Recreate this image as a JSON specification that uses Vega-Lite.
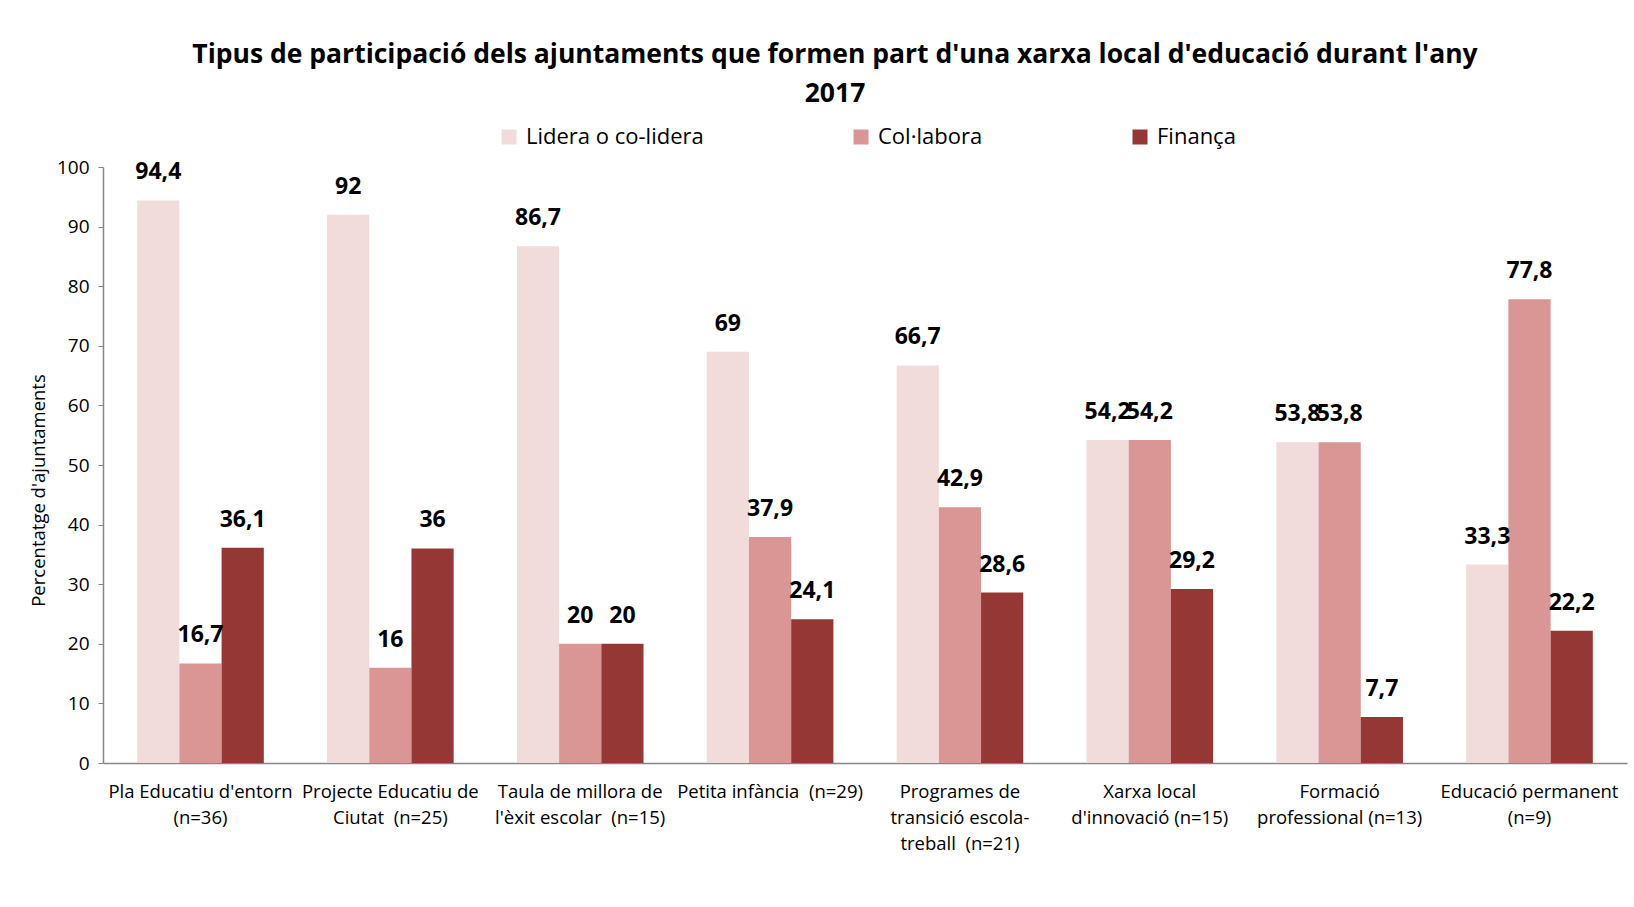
{
  "$schema": "https://vega.github.io/schema/vega-lite/v6.json",
  "width": 1524,
  "height": 596,
  "autosize": {"type": "none"},
  "padding": {"left": 103, "top": 167, "right": 7, "bottom": 144},
  "background": "white",
  "config": {
    "font": "Open Sans",
    "view": {"stroke": null},
    "locale": {"number": {"decimal": ",", "thousands": ".", "grouping": [3], "currency": ["", " €"]}}
  },
  "title": {
    "text": ["Tipus de participació dels ajuntaments que formen part d'una xarxa local d'educació durant l'any", "2017"],
    "fontSize": 26.5,
    "fontWeight": "bold",
    "color": "#000000",
    "anchor": "middle",
    "frame": "group",
    "lineHeight": 39,
    "dx": -30,
    "offset": 19
  },
  "data": {
    "values": [
      {"cat": "Pla Educatiu d'entorn|(n=36)", "serie": "Lidera o co-lidera", "value": 94.4},
      {"cat": "Pla Educatiu d'entorn|(n=36)", "serie": "Col·labora", "value": 16.7},
      {"cat": "Pla Educatiu d'entorn|(n=36)", "serie": "Finança", "value": 36.1},
      {"cat": "Projecte Educatiu de|Ciutat  (n=25)", "serie": "Lidera o co-lidera", "value": 92},
      {"cat": "Projecte Educatiu de|Ciutat  (n=25)", "serie": "Col·labora", "value": 16},
      {"cat": "Projecte Educatiu de|Ciutat  (n=25)", "serie": "Finança", "value": 36},
      {"cat": "Taula de millora de|l'èxit escolar  (n=15)", "serie": "Lidera o co-lidera", "value": 86.7},
      {"cat": "Taula de millora de|l'èxit escolar  (n=15)", "serie": "Col·labora", "value": 20},
      {"cat": "Taula de millora de|l'èxit escolar  (n=15)", "serie": "Finança", "value": 20},
      {"cat": "Petita infància  (n=29)", "serie": "Lidera o co-lidera", "value": 69},
      {"cat": "Petita infància  (n=29)", "serie": "Col·labora", "value": 37.9},
      {"cat": "Petita infància  (n=29)", "serie": "Finança", "value": 24.1},
      {"cat": "Programes de|transició escola-|treball  (n=21)", "serie": "Lidera o co-lidera", "value": 66.7},
      {"cat": "Programes de|transició escola-|treball  (n=21)", "serie": "Col·labora", "value": 42.9},
      {"cat": "Programes de|transició escola-|treball  (n=21)", "serie": "Finança", "value": 28.6},
      {"cat": "Xarxa local|d'innovació (n=15)", "serie": "Lidera o co-lidera", "value": 54.2},
      {"cat": "Xarxa local|d'innovació (n=15)", "serie": "Col·labora", "value": 54.2},
      {"cat": "Xarxa local|d'innovació (n=15)", "serie": "Finança", "value": 29.2},
      {"cat": "Formació|professional (n=13)", "serie": "Lidera o co-lidera", "value": 53.8},
      {"cat": "Formació|professional (n=13)", "serie": "Col·labora", "value": 53.8},
      {"cat": "Formació|professional (n=13)", "serie": "Finança", "value": 7.7},
      {"cat": "Educació permanent|(n=9)", "serie": "Lidera o co-lidera", "value": 33.3},
      {"cat": "Educació permanent|(n=9)", "serie": "Col·labora", "value": 77.8},
      {"cat": "Educació permanent|(n=9)", "serie": "Finança", "value": 22.2}
    ]
  },
  "encoding": {
    "x": {
      "field": "cat",
      "type": "nominal",
      "sort": null,
      "scale": {"paddingInner": 0.333, "paddingOuter": 0.18},
      "axis": {
        "title": null,
        "labelAngle": 0,
        "labelExpr": "split(replace(datum.value, '  ', '\u00a0 '), '|')",
        "labelFontSize": 18.5,
        "labelLineHeight": 26,
        "labelColor": "#000000",
        "labelPadding": 19,
        "ticks": false,
        "domainColor": "#868686",
        "domainWidth": 1.5,
        "labelLimit": 300
      }
    },
    "xOffset": {
      "field": "serie",
      "type": "nominal",
      "sort": ["Lidera o co-lidera", "Col·labora", "Finança"]
    },
    "y": {
      "field": "value",
      "type": "quantitative",
      "scale": {"domain": [0, 100], "nice": false},
      "axis": {
        "title": "Percentatge d'ajuntaments",
        "titleFontSize": 18.5,
        "titleFontWeight": "normal",
        "titleColor": "#000000",
        "titlePadding": 8,
        "titleY": 323,
        "values": [0, 10, 20, 30, 40, 50, 60, 70, 80, 90, 100],
        "labelFontSize": 19,
        "labelColor": "#000000",
        "labelPadding": 9,
        "grid": false,
        "tickSize": 5,
        "tickColor": "#868686",
        "domainColor": "#868686",
        "domainWidth": 1.5
      }
    },
    "color": {
      "field": "serie",
      "type": "nominal",
      "scale": {
        "domain": ["Lidera o co-lidera", "Col·labora", "Finança"],
        "range": ["#F2DCDB", "#D99694", "#953735"]
      },
      "legend": {
        "title": null,
        "orient": "none",
        "direction": "horizontal",
        "legendX": 395,
        "legendY": -41,
        "symbolType": "square",
        "symbolSize": 225,
        "symbolStrokeWidth": 0,
        "labelFontSize": 22,
        "labelLimit": 400,
        "labelColor": "#000000",
        "labelOffset": 6,
        "columnPadding": 146
      }
    }
  },
  "layer": [
    {"mark": {"type": "bar"}},
    {
      "mark": {"type": "text", "fontSize": 23, "fontWeight": "bold", "baseline": "middle", "dy": -28, "color": "#000000"},
      "encoding": {
        "text": {"field": "value", "type": "quantitative", "format": ".1~f"},
        "color": {"value": "#000000"}
      }
    }
  ]
}
